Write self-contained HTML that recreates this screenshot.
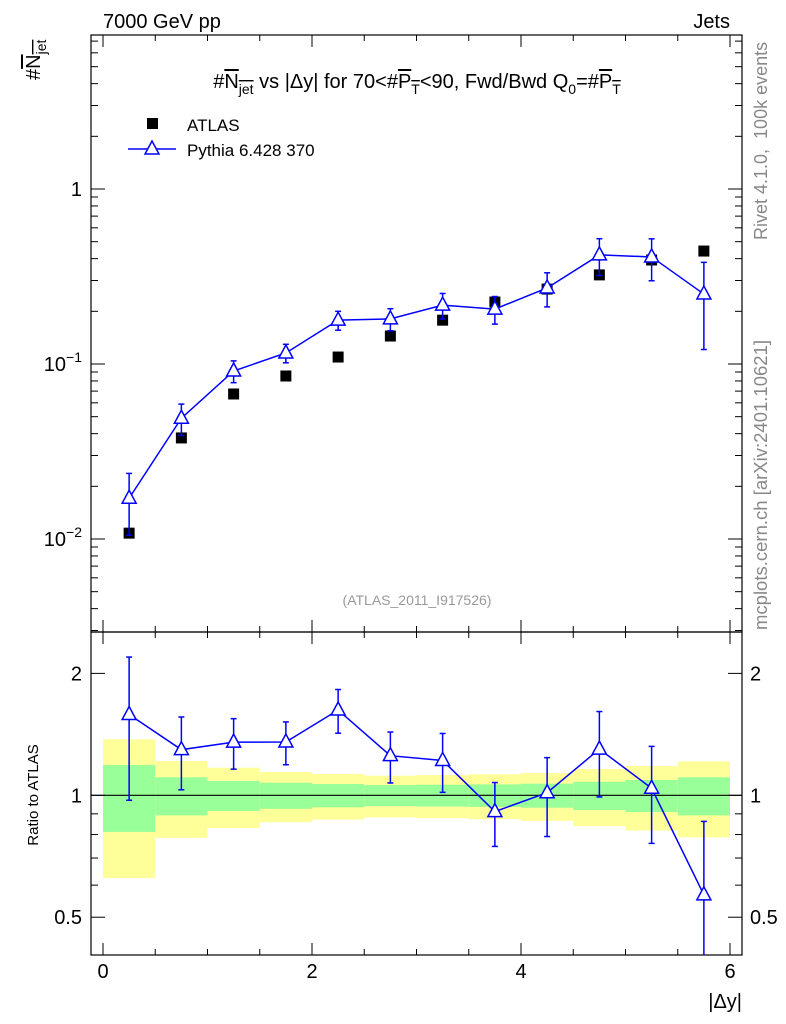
<!DOCTYPE html>
<html><head><meta charset="utf-8"><style>
body{margin:0;background:#fff;}
svg{display:block;font-family:"Liberation Sans",sans-serif;}
</style></head><body>
<svg id="c" width="786" height="1024"></svg>
<script>
const binCenters=[0.25,0.75,1.25,1.75,2.25,2.75,3.25,3.75,4.25,4.75,5.25,5.75];
const atlasVals=[0.0108,0.0378,0.0674,0.0854,0.1096,0.1445,0.178,0.226,0.268,0.323,0.393,0.442];
const pythiaVals=[0.0171,0.049,0.0912,0.1156,0.178,0.181,0.217,0.206,0.272,0.42,0.409,0.251];
const pythiaErr=[0.0066,0.01,0.013,0.014,0.022,0.026,0.036,0.037,0.06,0.1,0.11,0.13];
const atlasTotRel=[0.375,0.215,0.17,0.142,0.129,0.118,0.122,0.127,0.135,0.161,0.181,0.213];
const atlasStatRel=[0.188,0.108,0.085,0.074,0.066,0.06,0.062,0.064,0.068,0.08,0.091,0.108];
const xTicks=[0,2,4,6];

const NS="http://www.w3.org/2000/svg";
const svg=document.getElementById('c');
function el(tag,attrs,parent){const e=document.createElementNS(NS,tag);for(const k in attrs)e.setAttribute(k,attrs[k]);(parent||svg).appendChild(e);return e;}
const L=91,R=742,T=35,M=632,B=955;
const X=v=>103+v*104.5;
const YU=v=>189-Math.log10(v)*175;
const YR=v=>795.3-Math.log10(v)*405;
const clipU=el('clipPath',{id:'cu'});el('rect',{x:L,y:T,width:R-L,height:M-T},clipU);
const clipR=el('clipPath',{id:'cr'});el('rect',{x:L,y:M,width:R-L,height:B-M},clipR);

const gBand=el('g',{'clip-path':'url(#cr)'});


binCenters.forEach((c,i)=>{
  const x0=X(c-0.25),x1=X(c+0.25);
  const y=el('rect',{x:x0,y:YR(1+atlasTotRel[i]),width:x1-x0,height:YR(1-atlasTotRel[i])-YR(1+atlasTotRel[i]),fill:'#ffff99'},gBand);
  
  
  const g=el('rect',{x:x0,y:YR(1+atlasStatRel[i]),width:x1-x0,height:YR(1-atlasStatRel[i])-YR(1+atlasStatRel[i]),fill:'#99ff99'},gBand);
  
  
});
el('line',{x1:L,x2:R,y1:YR(1),y2:YR(1),stroke:'#000','stroke-width':1.2});

el('rect',{x:L,y:T,width:R-L,height:M-T,fill:'none',stroke:'#000','stroke-width':1.2});
el('rect',{x:L,y:M,width:R-L,height:B-M,fill:'none',stroke:'#000','stroke-width':1.2});

for(let v=0;v<=6.01;v+=0.5){
  const big=Math.abs(v%2)<0.01;const len=big?12:6;const x=X(v);
  [[T,1],[M,-1],[M,1],[B,-1]].forEach(([y0,d])=>el('line',{x1:x,x2:x,y1:y0,y2:y0+d*len,stroke:'#000'}));
}
xTicks.forEach(v=>{const t=el('text',{x:X(v),y:978,'font-size':20,'text-anchor':'middle'});t.textContent=v;
});

for(let e=-3;e<=0;e++){for(let m=1;m<10;m++){const v=m*Math.pow(10,e);const y=YU(v);if(y<T||y>M)continue;const len=m==1?14:7;
el('line',{x1:L,x2:L+len,y1:y,y2:y,stroke:'#000'});el('line',{x1:R,x2:R-len,y1:y,y2:y,stroke:'#000'});}}
function ylab(y,html){const t=el('text',{x:82,y:y+7,'font-size':20,'text-anchor':'end'});t.innerHTML=html;}
ylab(YU(1),'1');ylab(YU(0.1),'10<tspan dy="-9" font-size="14">−1</tspan>');ylab(YU(0.01),'10<tspan dy="-9" font-size="14">−2</tspan>');

[0.5,0.6,0.7,0.8,0.9,1,2].forEach(v=>{const y=YR(v);const len=(v==0.5||v==1||v==2)?14:7;
el('line',{x1:L,x2:L+len,y1:y,y2:y,stroke:'#000'});el('line',{x1:R,x2:R-len,y1:y,y2:y,stroke:'#000'});});
[[2,'2'],[1,'1'],[0.5,'0.5']].forEach(([v,s])=>{
 const a=el('text',{x:82,y:YR(v)+7,'font-size':20,'text-anchor':'end'});a.textContent=s;
 const b=el('text',{x:750,y:YR(v)+7,'font-size':20}); b.textContent=s;});

const gU=el('g',{'clip-path':'url(#cu)'});
binCenters.forEach((c,i)=>{const r=el('rect',{x:X(c)-5.5,y:YU(atlasVals[i])-5.5,width:11,height:11,fill:'#000'},gU);
});
function drawMC(g,Y,vals,errs){
 const pl=el('polyline',{points:binCenters.map((c,i)=>X(c)+','+Y(vals[i])).join(' '),fill:'none',stroke:'#0000ff','stroke-width':1.5},g);
 
 binCenters.forEach((c,i)=>{const x=X(c);const lo=Math.max(vals[i]-errs[i],1e-4);
  el('line',{x1:x,x2:x,y1:Y(vals[i]+errs[i]),y2:Y(lo),stroke:'#0000ff','stroke-width':1.5},g);
  el('line',{x1:x-3,x2:x+3,y1:Y(vals[i]+errs[i]),y2:Y(vals[i]+errs[i]),stroke:'#0000ff','stroke-width':1.5},g);
  el('line',{x1:x-3,x2:x+3,y1:Y(lo),y2:Y(lo),stroke:'#0000ff','stroke-width':1.5},g);
  const y=Y(vals[i]);const p=el('polygon',{points:`${x},${y-8} ${x-7},${y+5} ${x+7},${y+5}`,fill:'#fff',stroke:'#0000ff','stroke-width':1.5},g);
  });
}
drawMC(gU,YU,pythiaVals,pythiaErr);
const gR=el('g',{'clip-path':'url(#cr)'});
drawMC(gR,YR,pythiaVals.map((v,i)=>v/atlasVals[i]),pythiaErr.map((e,i)=>e/atlasVals[i]));

const lg=el('g',{});
el('rect',{x:147,y:118,width:11,height:11,fill:'#000'},lg);
el('text',{x:187,y:131,'font-size':17},lg).textContent='ATLAS';
el('line',{x1:128,x2:176,y1:149,y2:149,stroke:'#0000ff','stroke-width':1.5},lg);
el('polygon',{points:'152,141 145,154 159,154',fill:'#fff',stroke:'#0000ff','stroke-width':1.5},lg);
el('text',{x:187,y:156,'font-size':17},lg).textContent='Pythia 6.428 370';

function txt(attrs,html,name){const t=el('text',attrs);t.innerHTML=html;return t;}
txt({x:103,y:28,'font-size':20},'7000 GeV pp','energy-label');
txt({x:730,y:28,'font-size':20,'text-anchor':'end'},'Jets','process-label');
txt({x:417,y:88,'font-size':20,'text-anchor':'middle'},'#<tspan text-decoration="overline">N<tspan font-size="14" dy="6">jet</tspan></tspan><tspan dy="-6"> vs |Δy| for 70&lt;#</tspan><tspan text-decoration="overline">P<tspan font-size="14" dy="6">T</tspan></tspan><tspan dy="-6">&lt;90, Fwd/Bwd Q</tspan><tspan font-size="14" dy="6">0</tspan><tspan dy="-6">=#</tspan><tspan text-decoration="overline">P<tspan font-size="14" dy="6">T</tspan></tspan>','plot-title');
txt({transform:'translate(40,80) rotate(-90)','font-size':20},'#<tspan text-decoration="overline">N<tspan font-size="14" dy="6">jet</tspan></tspan>','y-axis-title');
txt({transform:'translate(38,795) rotate(-90)','font-size':15,'text-anchor':'middle'},'Ratio to ATLAS','ratio-axis-title');
txt({x:742,y:1008,'font-size':20,'text-anchor':'end'},'|Δy|','x-axis-title');
txt({x:417,y:605,'font-size':14,'text-anchor':'middle',fill:'#999'},'(ATLAS_2011_I917526)','analysis-id');
txt({transform:'translate(767,240) rotate(-90)','font-size':18,fill:'#888'},'Rivet 4.1.0,&#160; 100k events','rivet-label');
txt({transform:'translate(767,630) rotate(-90)','font-size':18.5,fill:'#888'},'mcplots.cern.ch [arXiv:2401.10621]','mcplots-label');
</script>
</body></html>
